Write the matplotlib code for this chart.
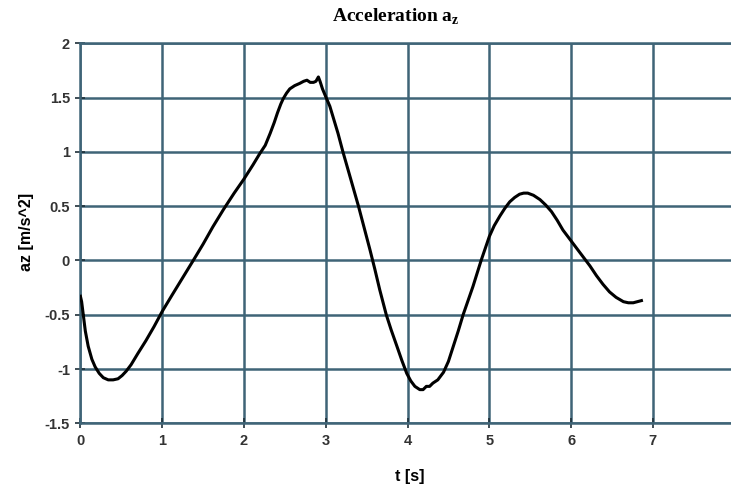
import numpy as np
import matplotlib
matplotlib.use('Agg')
import matplotlib.pyplot as plt

# data (t in s, az in m/s^2)
t = [0.0, 0.015, 0.035, 0.06, 0.095, 0.14, 0.18, 0.23, 0.28, 0.34, 0.40, 0.46,
     0.51, 0.56, 0.62, 0.70, 0.80, 0.90, 1.0, 1.12, 1.25, 1.38, 1.50, 1.62, 1.75,
     1.88, 2.0, 2.11, 2.19, 2.26, 2.32, 2.37, 2.41, 2.45, 2.48, 2.52, 2.56, 2.62, 2.68,
     2.73, 2.77, 2.81, 2.85, 2.88, 2.91, 2.93, 2.96, 3.01, 3.05, 3.09, 3.15, 3.21,
     3.29, 3.40, 3.47, 3.54, 3.60, 3.66, 3.74, 3.80, 3.87, 3.93, 3.99, 4.04, 4.09,
     4.15, 4.19, 4.23, 4.27, 4.31, 4.37, 4.44, 4.50, 4.56, 4.62, 4.68, 4.74, 4.80,
     4.85, 4.90, 4.95, 5.0, 5.06, 5.13, 5.19, 5.25, 5.31, 5.37, 5.42, 5.47, 5.54,
     5.62, 5.69, 5.76, 5.83, 5.90, 6.0, 6.08, 6.15, 6.23, 6.31, 6.39, 6.47, 6.55,
     6.64, 6.70, 6.76, 6.81, 6.86]
az = [-0.33, -0.38, -0.50, -0.65, -0.79, -0.91, -0.98, -1.04, -1.08, -1.10, -1.10, -1.09,
      -1.06, -1.02, -0.96, -0.86, -0.74, -0.61, -0.47, -0.32, -0.16, 0.0, 0.15, 0.31, 0.47,
      0.62, 0.75, 0.88, 0.98, 1.06, 1.17, 1.27, 1.36, 1.44, 1.49, 1.54, 1.58, 1.61, 1.63,
      1.65, 1.66, 1.64, 1.64, 1.65, 1.69, 1.65, 1.58, 1.49, 1.42, 1.32, 1.17, 1.0,
      0.79, 0.5, 0.30, 0.10, -0.08, -0.27, -0.5, -0.64, -0.79, -0.92, -1.04, -1.11, -1.16,
      -1.19, -1.19, -1.16, -1.16, -1.13, -1.10, -1.03, -0.93, -0.79, -0.65, -0.50, -0.37, -0.24,
      -0.12, 0.0, 0.11, 0.22, 0.32, 0.41, 0.48, 0.54, 0.58, 0.61, 0.62, 0.62, 0.60,
      0.56, 0.51, 0.45, 0.37, 0.28, 0.18, 0.10, 0.03, -0.05, -0.14, -0.22, -0.29, -0.34,
      -0.38, -0.39, -0.39, -0.38, -0.37]

xticks = [0, 1, 2, 3, 4, 5, 6, 7, 8]
yticks = [-1.5, -1, -0.5, 0, 0.5, 1, 1.5, 2]
ytick_labels = ['-1.5', '-1', '-0.5', '0', '0.5', '1', '1.5', '2']

grid_col = '#3f6477'

fig = plt.figure(figsize=(7.31, 4.88), dpi=100)
ax = fig.add_axes([0.110, 0.1326, 0.895, 0.7787])

ax.plot(t, az, color='black', linewidth=2.2, zorder=3)

ax.set_xlim(0, 8)
ax.set_ylim(-1.5, 2)
ax.set_xticks(xticks)
ax.set_yticks(yticks)
ax.set_yticklabels(ytick_labels)
ax.grid(True, color=grid_col, linewidth=1.8)
for s in ax.spines.values():
    s.set_color(grid_col)
    s.set_linewidth(1.8)
ax.tick_params(direction='inout', length=7, width=1.2, color='#1e2f38',
               labelsize=10.5, pad=4, labelcolor='#333333')
for lab in ax.get_xticklabels() + ax.get_yticklabels():
    lab.set_fontfamily('Liberation Sans')
    lab.set_fontweight('bold')

fig.text(396 / 731, 1 - 17 / 488, 'Acceleration a$_\\mathregular{z}$', ha='center', va='center',
         fontsize=14, fontweight='bold', family='Liberation Serif')
fig.text(410 / 731, 1 - 476 / 488, 't [s]', ha='center', va='center',
         fontsize=11.5, fontweight='bold', family='Liberation Sans')
fig.text(27 / 731, 1 - 232 / 488, 'az [m/s^2]', ha='center', va='center', rotation=90,
         fontsize=11.5, fontweight='bold', family='Liberation Sans')

fig.savefig('out.png', dpi=100, facecolor='white')
